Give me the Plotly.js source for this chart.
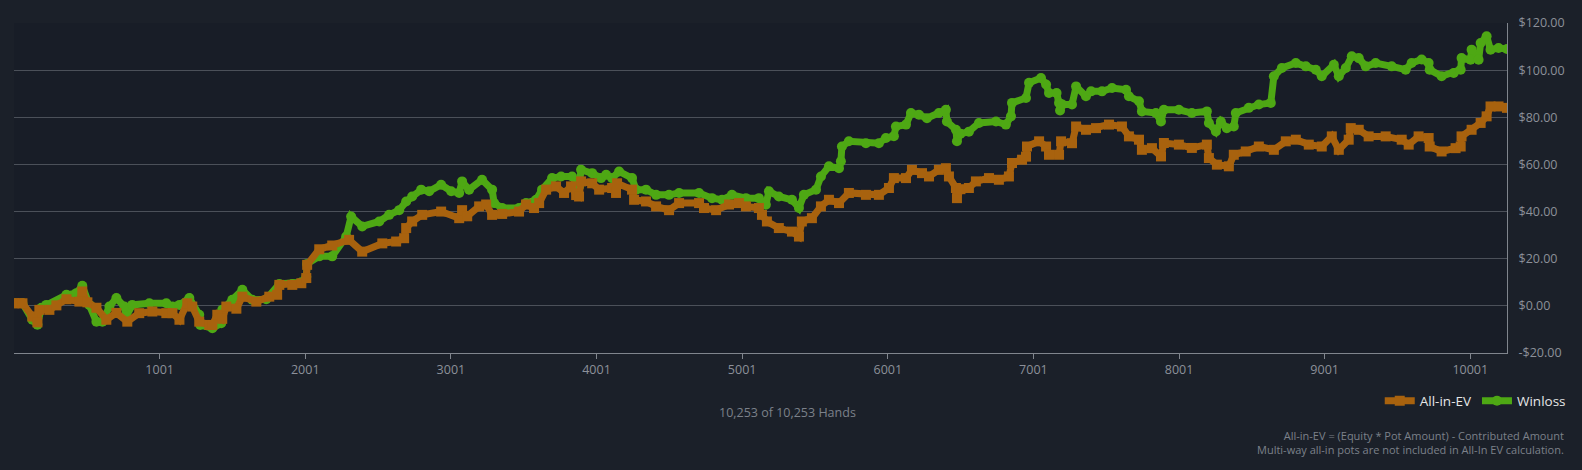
<!DOCTYPE html>
<html>
<head>
<meta charset="utf-8">
<script src="https://cdn.plot.ly/plotly-3.0.1.min.js"></script>
<style>
html,body{margin:0;padding:0;background:#1b2029;}
#chart{width:1582px;height:470px;}
</style>
</head>
<body>
<div id="chart"></div>
<script>
// Hands (x) and cumulative dollars (y)
const evHands = [1,38,59,127,162,175,244,292,361,450,470,505,567,635,704,779,861,951,1047,1089,1137,1191,1225,1273,1342,1363,1397,1431,1459,1528,1569,1665,1754,1808,1823,1912,1974,2008,2014,2097,2186,2302,2392,2530,2625,2680,2694,2735,2804,2934,3058,3078,3113,3195,3243,3284,3353,3469,3517,3572,3607,3655,3723,3778,3826,3861,3881,3895,3971,4019,4108,4135,4142,4245,4259,4341,4410,4499,4568,4705,4739,4822,4911,4979,5027,5116,5137,5171,5253,5343,5391,5411,5480,5542,5597,5666,5734,5851,5940,6009,6043,6126,6167,6236,6284,6352,6400,6421,6469,6476,6500,6558,6606,6696,6764,6833,6854,6923,6950,6957,7040,7088,7108,7177,7191,7266,7294,7362,7431,7520,7609,7657,7726,7746,7815,7877,7897,8000,8089,8192,8206,8261,8343,8377,8459,8549,8652,8734,8803,8892,8981,9050,9098,9166,9180,9235,9303,9420,9530,9578,9646,9715,9722,9804,9900,9935,9941,10010,10072,10113,10140,10195,10253];
const evValues = [1.1,1.1,1.1,-4.5,-7.0,-1.7,-1.7,0.2,2.8,1.8,6.1,1.5,-0.8,-5.9,-3.0,-6.7,-3.1,-2.4,-3.1,-3.1,-5.9,1.1,-0.3,-6.7,-8.1,-8.1,-3.8,-5.5,-0.3,-1.2,3.9,1.8,3.9,4.7,8.9,8.9,9.6,11.8,17.4,24.0,25.6,28.0,23.0,26.5,27.3,28.7,33.0,35.8,38.6,40.0,37.2,40.6,38.0,42.2,43.0,38.6,39.0,40.0,43.0,41.5,43.6,49.3,50.7,47.9,50.7,47.0,46.4,52.8,52.0,49.3,50.0,47.9,52.0,49.3,45.0,44.3,42.2,40.6,43.6,43.6,41.5,40.6,43.0,43.6,42.2,41.5,38.6,35.8,33.0,31.5,29.4,35.8,37.2,42.2,45.0,43.6,47.9,47.1,47.1,50.0,54.2,54.2,57.7,56.3,54.9,57.7,58.4,54.9,50.0,45.7,49.5,50.0,52.8,54.2,53.5,54.9,60.6,62.0,63.3,67.6,69.8,67.6,64.1,64.1,69.8,69.0,76.1,74.7,75.4,76.9,76.1,71.9,70.5,66.2,66.9,63.4,69.1,68.4,67.0,68.4,62.7,59.9,59.2,64.1,65.5,67.6,66.2,69.8,70.5,68.4,67.6,71.9,66.2,70.5,75.4,74.7,71.9,71.9,70.5,68.4,71.9,71.2,67.6,65.5,66.9,67.6,71.9,74.7,77.6,80.4,84.6,84.6,84.0];

const wlHands = [1,59,127,162,189,223,361,429,470,518,567,608,656,704,759,772,813,930,1047,1089,1137,1205,1273,1280,1363,1424,1431,1500,1569,1637,1733,1823,1912,1974,2008,2014,2097,2186,2282,2316,2392,2509,2577,2646,2694,2735,2797,2852,2934,3003,3058,3078,3126,3215,3284,3298,3353,3469,3517,3586,3627,3696,3758,3833,3881,3895,3971,4032,4067,4108,4156,4245,4272,4341,4410,4499,4568,4705,4794,4863,4931,5027,5116,5164,5185,5253,5343,5391,5425,5508,5542,5597,5666,5679,5686,5734,5851,5940,5988,6043,6057,6126,6160,6215,6270,6352,6400,6407,6469,6476,6500,6558,6627,6744,6812,6847,6854,6950,6971,7053,7088,7108,7160,7177,7184,7200,7266,7294,7362,7397,7472,7541,7637,7657,7726,7746,7842,7877,7897,8000,8089,8192,8206,8254,8288,8329,8377,8391,8480,8549,8631,8652,8707,8803,8872,8940,8981,9064,9098,9146,9187,9235,9283,9351,9461,9557,9598,9667,9715,9722,9804,9887,9935,9941,10003,10010,10058,10072,10113,10140,10195,10253];
const wlValues = [1.1,1.1,-5.9,-8.0,-0.8,0.4,4.7,5.4,8.5,0.4,-6.7,-6.7,-0.3,3.3,-0.3,-4.5,0.4,1.1,1.1,-0.3,0.4,3.3,-3.8,-8.1,-9.5,-7.4,-1.7,2.6,6.8,2.6,2.8,9.3,9.3,10.0,12.3,17.8,21.0,21.0,29.4,37.9,33.7,35.8,38.6,40.6,44.3,46.4,49.3,48.6,51.4,48.6,47.9,52.8,49.3,53.5,49.3,43.6,41.5,41.5,43.6,45.0,49.3,54.2,54.9,54.9,50.7,57.7,56.3,54.2,55.6,54.2,57.0,54.2,49.3,49.3,47.1,47.1,47.9,47.9,45.7,45.0,47.1,45.7,45.7,42.9,48.6,46.4,45.0,41.5,47.1,49.3,54.9,59.2,58.4,61.3,67.6,69.8,69.0,69.0,71.2,72.0,76.1,76.9,81.8,81.1,79.6,81.8,83.2,78.2,74.7,69.8,73.0,73.9,77.6,78.2,76.9,80.4,86.1,88.2,94.6,96.7,93.9,90.3,90.3,86.1,82.9,85.4,85.4,93.1,88.9,91.0,91.0,92.4,91.7,88.9,86.8,82.5,81.8,78.2,83.2,83.2,81.8,82.5,77.6,74.0,78.2,75.4,76.1,81.8,84.0,85.4,86.1,97.4,100.9,103.0,101.6,100.2,97.4,102.3,97.4,100.9,105.9,105.1,101.6,103.0,101.6,100.2,103.0,104.5,103.0,100.2,97.4,98.8,100.2,105.1,104.4,108.7,104.4,111.5,114.4,108.7,109.4,109.0];

const xTickVals = [1001,2001,3001,4001,5001,6001,7001,8001,9001,10001];
const xTickText = ['1001','2001','3001','4001','5001','6001','7001','8001','9001','10001'];
const yTickVals = [-20,0,20,40,60,80,100,120];
const yTickText = ['-$20.00','$0.00','$20.00','$40.00','$60.00','$80.00','$100.00','$120.00'];
const totalHands = '10,253 of 10,253 Hands';
const noteLines = ['All-in-EV = (Equity * Pot Amount) - Contributed Amount','Multi-way all-in pots are not included in All-In EV calculation.'];

const FONT = '"Open Sans", "Noto Sans", sans-serif';

const traces = [
  {
    x: wlHands, y: wlValues, name: 'Winloss', type: 'scatter', mode: 'lines+markers',
    line: {color: '#4ea814', width: 7},
    marker: {color: '#4ea814', size: 10, symbol: 'circle'},
    hoverinfo: 'skip'
  },
  {
    x: evHands, y: evValues, name: 'All-in-EV', type: 'scatter', mode: 'lines+markers',
    line: {color: '#a8620e', width: 7},
    marker: {color: '#a8620e', size: 10, symbol: 'square'},
    hoverinfo: 'skip'
  }
];

const layout = {
  width: 1582, height: 470,
  paper_bgcolor: '#1b2029',
  plot_bgcolor: '#181d27',
  font: {family: FONT, color: '#8c9099', size: 12},
  margin: {l: 14, r: 74, t: 23, b: 117},
  showlegend: true,
  legend: {
    orientation: 'h', traceorder: 'reversed',
    x: 1.042, xanchor: 'right', y: -0.145, yanchor: 'middle',
    font: {family: FONT, color: '#e6e6e6', size: 13.5},
    bgcolor: 'rgba(0,0,0,0)', itemwidth: 30
  },
  xaxis: {
    range: [1, 10253], tickvals: xTickVals, ticktext: xTickText, ticks: 'outside', ticklen: 5,
    tickcolor: '#80858d', showgrid: false, zeroline: false,
    showline: true, linecolor: '#80858d', linewidth: 1,
    tickfont: {family: FONT, color: '#8c9099', size: 12.5}
  },
  yaxis: {
    side: 'right', range: [-20, 120], tickvals: yTickVals, ticktext: yTickText,
    ticks: '', showgrid: true, gridcolor: '#4b5059', gridwidth: 1, zeroline: false,
    showline: true, linecolor: '#80858d', linewidth: 1, ticklabelstandoff: 8,
    tickfont: {family: FONT, color: '#8c9099', size: 12.5}
  },
  annotations: [
    {text: totalHands, xref: 'paper', yref: 'paper', x: 0.518, y: -0.181,
     xanchor: 'center', yanchor: 'middle', showarrow: false,
     font: {family: FONT, color: '#7c818a', size: 12.5}},
    {text: noteLines.join('<br>'), xref: 'paper', yref: 'paper', x: 1.0393, y: -0.272,
     xanchor: 'right', yanchor: 'middle', align: 'right', showarrow: false,
     font: {family: FONT, color: '#7c818a', size: 11}}
  ]
};

Plotly.newPlot('chart', traces, layout, {displayModeBar: false, staticPlot: true});
</script>
</body>
</html>
